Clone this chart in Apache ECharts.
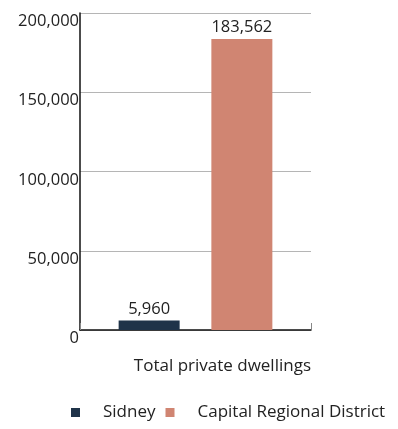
<!DOCTYPE html>
<html>
<head>
<meta charset="utf-8">
<script src="https://cdn.jsdelivr.net/npm/echarts@6/dist/echarts.min.js"></script>
<style>
  html, body { margin: 0; padding: 0; background: #fff; }
  #chart { width: 398px; height: 429px; }
</style>
</head>
<body>
<div id="chart"></div>
<script>
// Dwelling counts for one census measure
const categories = ['Total private dwellings'];
const seriesNames = ['Sidney', 'Capital Regional District'];
const sidneyValues = [5960];
const crdValues = [183562];
const yTicks = [0, 50000, 100000, 150000, 200000];

const FONT = '"Open Sans", sans-serif';
const fmt = v => v.toLocaleString('en-US');

const chart = echarts.init(document.getElementById('chart'));
chart.setOption({
  animation: false,
  grid: { left: 80, right: 87, top: 13, bottom: 99, containLabel: false },
  legend: {
    bottom: 3,
    left: 66,
    icon: 'rect',
    itemWidth: 9,
    itemHeight: 9,
    itemGap: 10,
    data: seriesNames,
    textStyle: { fontFamily: FONT, fontSize: 17, color: '#222', padding: [0, 0, 0, 18] }
  },
  xAxis: {
    type: 'category',
    data: categories,
    name: categories[0],
    nameLocation: 'end',
    nameGap: 0,
    nameTextStyle: {
      fontFamily: FONT, fontSize: 17, color: '#222',
      align: 'right', verticalAlign: 'top', padding: [28, 0, 0, 0]
    },
    axisLine: { lineStyle: { color: '#111', width: 1.5 } },
    axisTick: { show: true, inside: true, length: 7, lineStyle: { color: '#888' } },
    axisLabel: { show: false }
  },
  yAxis: {
    type: 'value',
    min: yTicks[0],
    max: yTicks[yTicks.length - 1],
    interval: yTicks[1] - yTicks[0],
    axisLine: { show: true, lineStyle: { color: '#111', width: 1.5 } },
    axisTick: { show: false },
    splitLine: { lineStyle: { color: '#b5b5b5', width: 1 } },
    axisLabel: {
      margin: 1,
      fontFamily: FONT, fontSize: 16.5, color: '#222',
      verticalAlign: 'top',
      formatter: fmt
    }
  },
  series: [
    {
      name: seriesNames[0], type: 'bar', data: sidneyValues,
      barWidth: 61, barGap: '52%',
      itemStyle: { color: '#1f3349' },
      label: { show: true, position: 'top', distance: 3, fontFamily: FONT, fontSize: 16.5, color: '#222', formatter: p => fmt(p.value) }
    },
    {
      name: seriesNames[1], type: 'bar', data: crdValues,
      barWidth: 61, barGap: '52%',
      itemStyle: { color: '#d08572' },
      label: { show: true, position: 'top', distance: 3, fontFamily: FONT, fontSize: 16.5, color: '#222', formatter: p => fmt(p.value) }
    }
  ]
});
</script>
</body>
</html>
